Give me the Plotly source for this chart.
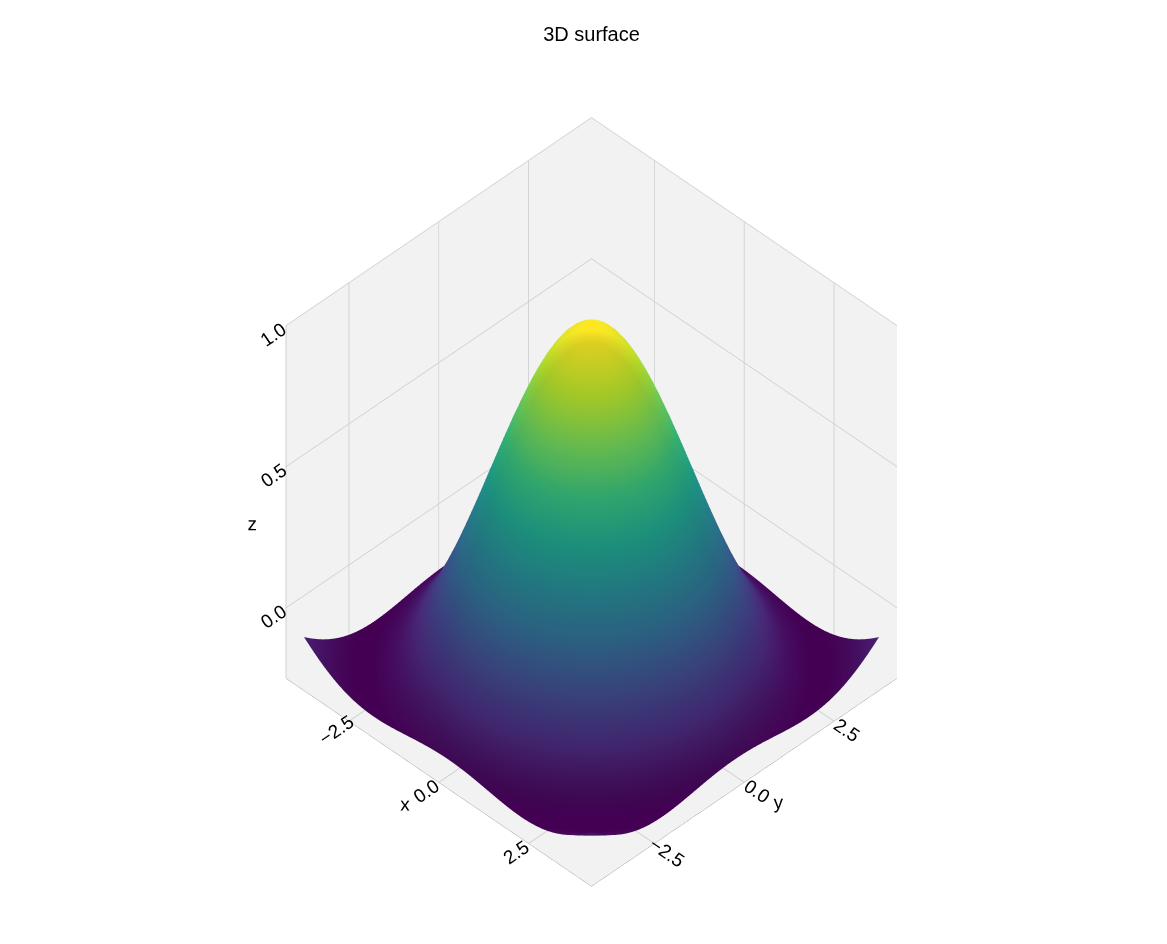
import numpy as np
import plotly.graph_objects as go

x = np.linspace(-4, 4, 60)
y = np.linspace(-4, 4, 60)
X, Y = np.meshgrid(x, y)
R = np.sqrt(X**2 + Y**2)
Z = np.sinc(R / np.pi)  # sin(r)/r surface

def ax(title, tickvals, ticktext, **kw):
    d = dict(
        backgroundcolor="#f2f2f2", showbackground=True, gridcolor="#d0d0d0",
        linecolor="#aaaaaa", showline=True, zeroline=False, ticks="",
        tickfont=dict(size=15, color="black"),
        title=dict(text=title, font=dict(size=19, color="black")),
        tickvals=tickvals, ticktext=ticktext,
    )
    d.update(kw)
    return d

fig = go.Figure(go.Surface(
    x=x, y=y, z=Z, colorscale="Viridis", showscale=False,
    lighting=dict(ambient=0.9, diffuse=0.25, specular=0.05, roughness=0.9)))
fig.update_layout(
    width=1167, height=944, paper_bgcolor="white",
    font=dict(family="Liberation Sans, Arial", color="black"),
    title=dict(text="3D surface", x=0.5, y=0.98, font=dict(size=20)),
    margin=dict(l=20, r=20, t=60, b=20),
    scene=dict(
        xaxis=ax("x", [-2.5, 0, 2.5], ["−2.5", "0.0", "2.5"]),
        yaxis=ax("y", [-2.5, 0, 2.5], ["−2.5", "0.0", "2.5"]),
        zaxis=ax("z", [0, 0.5, 1.0], ["0.0", "0.5", "1.0"], range=[-0.25, 1.0]),
        aspectmode="manual", aspectratio=dict(x=1.0, y=1.0, z=1.115),
        camera=dict(eye=dict(x=1.3, y=-1.3, z=1.715), center=dict(x=-0.02, y=0.02, z=-0.02),
                    projection=dict(type="orthographic")),
    ),
)
fig.write_html("out.html")
